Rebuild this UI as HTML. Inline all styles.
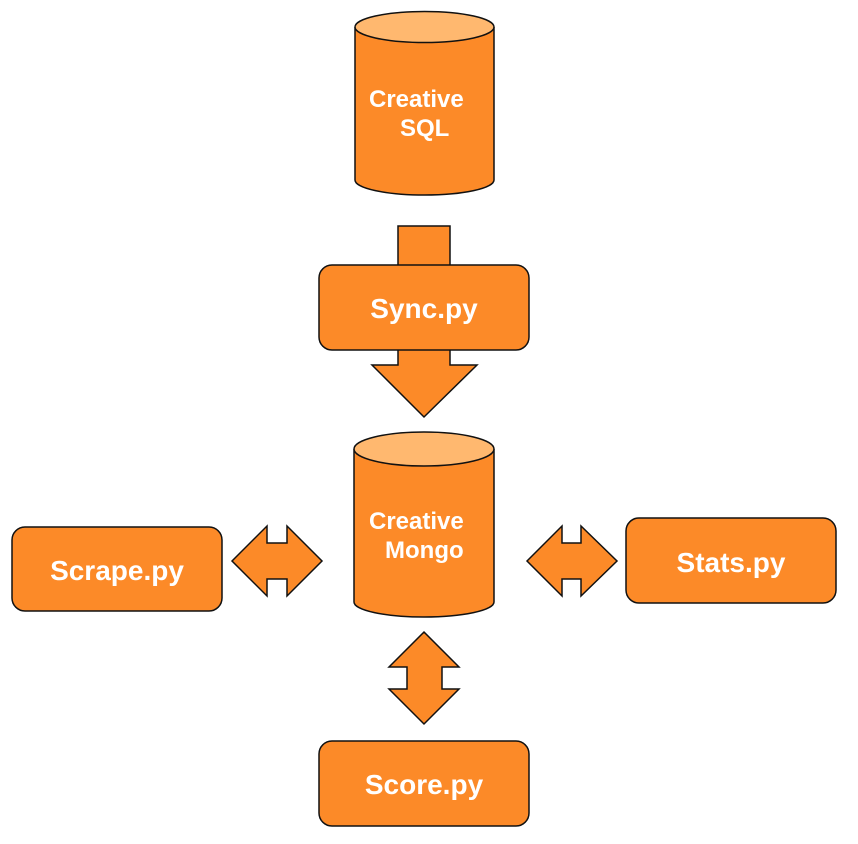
<!DOCTYPE html>
<html><head><meta charset="utf-8"><style>
html,body{margin:0;padding:0;background:#fff;}
svg{display:block;}
text{font-family:"Liberation Sans",sans-serif;font-weight:bold;fill:#fff;}
</style></head><body>
<svg width="858" height="844" viewBox="0 0 858 844" xmlns="http://www.w3.org/2000/svg">
<g stroke="#111" stroke-width="1.5" fill="#fc8a28">
<path d="M355 27 L355 180 A69.5 15 0 0 0 494 180 L494 27"/>
<ellipse cx="424.5" cy="27" rx="69.5" ry="15.5" fill="#ffb86f"/>
<rect x="398" y="226" width="52" height="45"/>
<path d="M398 345 L398 365 L372 365 L424 417 L477 365 L450 365 L450 345"/>
<rect x="319" y="265" width="210" height="85" rx="13"/>
<path d="M354 449 L354 602 A70 15 0 0 0 494 602 L494 449"/>
<ellipse cx="424" cy="449" rx="70" ry="17" fill="#ffb86f"/>
<path d="M232 561 L267 526 L267 543 L287 543 L287 526 L322 561 L287 596 L287 579 L267 579 L267 596 Z"/>
<path d="M527 561 L562 526 L562 543 L581 543 L581 526 L617 561 L581 596 L581 579 L562 579 L562 596 Z"/>
<path d="M424 632 L459 667 L442 667 L442 689 L459 689 L424 724 L389 689 L407 689 L407 667 L389 667 Z"/>
<rect x="12" y="527" width="210" height="84" rx="13"/>
<rect x="626" y="518" width="210" height="85" rx="13"/>
<rect x="319" y="741" width="210" height="85" rx="13"/>
</g>
<text x="369" y="107" font-size="24">Creative</text>
<text x="400" y="136" font-size="24">SQL</text>
<text x="369" y="529" font-size="24">Creative</text>
<text x="385" y="558" font-size="24">Mongo</text>
<text x="424" y="318" font-size="28" text-anchor="middle">Sync.py</text>
<text x="117" y="580" font-size="28" text-anchor="middle">Scrape.py</text>
<text x="731" y="572" font-size="28" text-anchor="middle">Stats.py</text>
<text x="424" y="794" font-size="28" text-anchor="middle">Score.py</text>
</svg>
</body></html>
